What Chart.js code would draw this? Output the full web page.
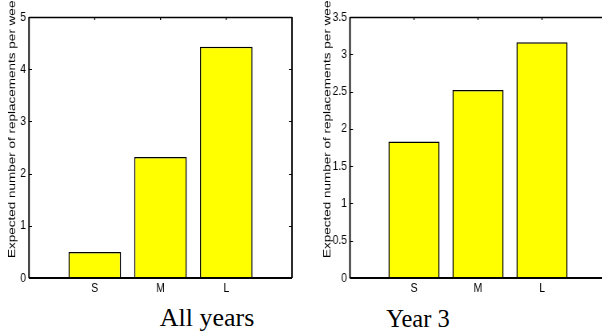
<!DOCTYPE html>
<html><head><meta charset="utf-8">
<script src="https://cdn.jsdelivr.net/npm/chart.js@4/dist/chart.umd.min.js"></script>
<style>
html,body{margin:0;padding:0;background:#fff;overflow:hidden;width:602px;height:335px;}
.wrap{position:absolute;top:0;transform:scaleX(0.8);transform-origin:0 0;}
.wrap canvas{display:block;}
.cap{position:absolute;font-family:"Liberation Serif","Times New Roman",serif;color:#000;line-height:1;white-space:nowrap;text-align:center;}
</style></head><body>
<div class="wrap" style="left:0px;width:375px;height:300px"><canvas id="c1" width="375" height="300"></canvas></div>
<div class="wrap" style="left:300px;width:388px;height:300px"><canvas id="c2" width="388" height="300"></canvas></div>
<div class="cap" style="left:107px;width:200px;top:305px;font-size:26px">All years</div>
<div class="cap" style="left:318px;width:200px;top:306.5px;font-size:24.5px">Year 3</div>
<script>
const categories = ['S', 'M', 'L'];
const allYears = [0.50, 2.32, 4.43];
const year3 = [1.83, 2.52, 3.16];
const yTitle = 'Expected number of replacements per wee';
const captions = ['All years', 'Year 3'];

const SX = 0.8;
Chart.defaults.font.family = '"Liberation Sans", Arial, Helvetica, sans-serif';
Chart.defaults.color = '#000';

function frameTicksPlugin() {
  return {
    id: 'frame',
    beforeDatasetsDraw(chart) {
      const {ctx, chartArea: a, scales: {x, y}} = chart;
      ctx.save();
      ctx.strokeStyle = '#000';
      ctx.lineWidth = 1;
      const tl = 3;
      ctx.beginPath();
      y.ticks.forEach(t => {
        const py = Math.round(y.getPixelForValue(t.value)) + 0.5;
        ctx.moveTo(a.left, py); ctx.lineTo(a.left + tl / SX, py);
        ctx.moveTo(a.right, py); ctx.lineTo(a.right - tl / SX, py);
      });
      ctx.stroke();
      ctx.lineWidth = 1 / SX;
      ctx.beginPath();
      x.ticks.forEach(t => {
        if (t.value < 1 || t.value > categories.length) return;
        const px = x.getPixelForValue(t.value);
        ctx.moveTo(px, a.top); ctx.lineTo(px, a.top + tl);
      });
      ctx.stroke();
      // top line
      ctx.lineWidth = 1.3;
      ctx.beginPath();
      ctx.moveTo(a.left, Math.round(a.top) + 0.5); ctx.lineTo(a.right, Math.round(a.top) + 0.5);
      ctx.stroke();
      // left & right lines
      ctx.lineWidth = 1.5 / SX;
      ctx.beginPath();
      ctx.moveTo(a.left, a.top); ctx.lineTo(a.left, a.bottom);
      ctx.moveTo(a.right, a.top); ctx.lineTo(a.right, a.bottom);
      ctx.stroke();
      ctx.restore();
    },
    afterDatasetsDraw(chart) {
      const {ctx, chartArea: a} = chart;
      ctx.save();
      ctx.strokeStyle = '#000';
      ctx.lineWidth = 2;
      ctx.beginPath();
      ctx.moveTo(a.left, Math.round(a.bottom)); ctx.lineTo(a.right, Math.round(a.bottom));
      ctx.stroke();
      ctx.restore();
    },
    afterDraw(chart) {
      const ctx = chart.ctx;
      const o = chart.options.plugins.frame;
      ctx.save();
      ctx.font = '13.5px "Liberation Sans", Arial, sans-serif';
      ctx.fillStyle = '#000';
      ctx.textAlign = 'left';
      ctx.textBaseline = 'alphabetic';
      ctx.translate(o.labelX, 258);
      ctx.rotate(-Math.PI / 2);
      ctx.fillText(yTitle, 0, 0);
      ctx.restore();
    }
  };
}

function makeChart(id, values, yMax, yStep, axisWidth, padRight, labelX) {
  return new Chart(document.getElementById(id), {
    type: 'bar',
    data: {
      datasets: [{
        data: values.map((v, i) => ({x: i + 1, y: v})),
        backgroundColor: '#ffff00',
        borderColor: '#000000',
        borderWidth: 1.2 / SX,
        barPercentage: 0.8,
        categoryPercentage: 1
      }]
    },
    options: {
      responsive: false,
      animation: false,
      layout: {padding: {left: 0, top: 17, right: padRight, bottom: 0}},
      plugins: {
        legend: {display: false},
        tooltip: {enabled: false},
        title: {display: false},
        frame: {labelX: labelX}
      },
      scales: {
        x: {
          type: 'linear',
          min: 0, max: categories.length + 1,
          offset: false,
          grid: {display: false, drawTicks: false},
          border: {display: false},
          ticks: {
            stepSize: 1,
            autoSkip: false,
            maxRotation: 0,
            padding: 3,
            font: {size: 13},
            callback: v => (v >= 1 && v <= categories.length) ? categories[v - 1] : ''
          },
          afterFit: s => { s.height = 22; }
        },
        y: {
          min: 0, max: yMax,
          grid: {display: false, drawTicks: false},
          border: {display: false},
          ticks: {
            stepSize: yStep,
            padding: 3 / SX,
            font: {size: 13},
            callback: v => String(v)
          },
          afterFit: s => { s.width = axisWidth; }
        }
      }
    },
    plugins: [frameTicksPlugin()]
  });
}

makeChart('c1', allYears, 5, 1, 29 / SX, 375 - 292 / SX, 15 / SX);
makeChart('c2', year3, 3.5, 0.5, 50 / SX, 388 - 306 / SX, 30.7 / SX);
</script>
</body></html>
